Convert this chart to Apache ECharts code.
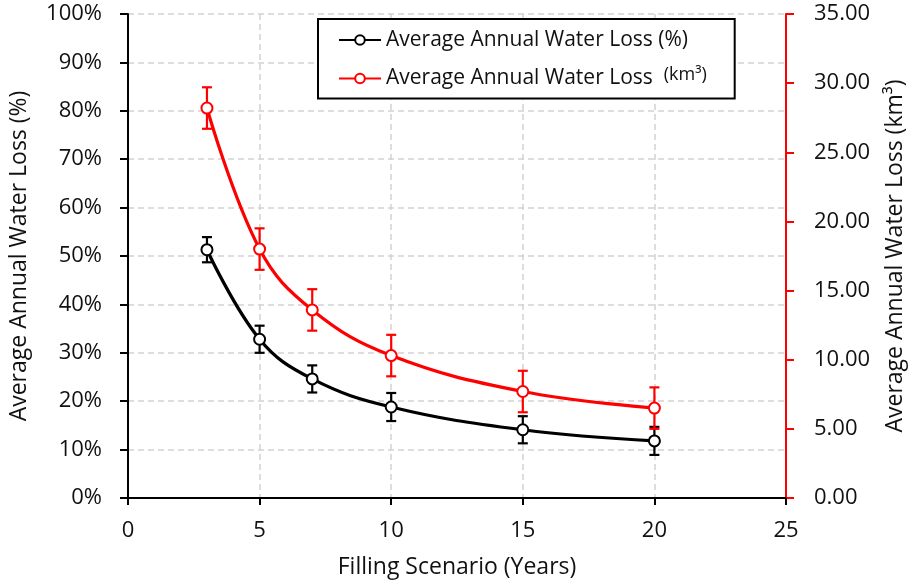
<!DOCTYPE html>
<html>
<head>
<meta charset="utf-8">
<script src="https://cdn.jsdelivr.net/npm/echarts@6/dist/echarts.min.js"></script>
<style>
  html, body { margin: 0; padding: 0; background: #fff; }
  #chart { width: 915px; height: 584px; }
</style>
</head>
<body>
<div id="chart"></div>
<script>
// Filling scenarios (years) and the resulting average annual water loss
const years = [3, 5, 7, 10, 15, 20];
const lossPct = [51.3, 32.8, 24.6, 18.8, 14.1, 11.8];      // % of inflow
const lossPctErr = [2.6, 2.8, 2.8, 2.9, 2.8, 2.9];
const lossKm3 = [28.2, 18.0, 13.6, 10.3, 7.7, 6.5];        // km³ per year
const lossKm3Err = [1.5, 1.5, 1.5, 1.5, 1.5, 1.5];

const xTicks = [0, 5, 10, 15, 20, 25];
const pctName = 'Average Annual Water Loss (%)';
const km3Name = 'Average Annual Water Loss (km³)';

const FONT = 'Open Sans';

function errorBars(color) {
  return function (params, api) {
    const x = api.value(0), y = api.value(1), e = api.value(2);
    const top = api.coord([x, y + e]);
    const bot = api.coord([x, y - e]);
    const hw = 5;
    const style = { stroke: color, lineWidth: 2.2 };
    return {
      type: 'group',
      children: [
        { type: 'line', shape: { x1: top[0], y1: top[1], x2: bot[0], y2: bot[1] }, style },
        { type: 'line', shape: { x1: top[0] - hw, y1: top[1], x2: top[0] + hw, y2: top[1] }, style },
        { type: 'line', shape: { x1: bot[0] - hw, y1: bot[1], x2: bot[0] + hw, y2: bot[1] }, style }
      ]
    };
  };
}

const chart = echarts.init(document.getElementById('chart'), null, { renderer: 'canvas' });

const dashed = { color: '#d2d2d2', width: 1.5, type: [6, 4] };

chart.setOption({
  animation: false,
  backgroundColor: '#fff',
  textStyle: { fontFamily: FONT },
  grid: { left: 125, right: 123, top: 14, bottom: 85, containLabel: false },
  legend: {
    data: [pctName, km3Name],
    orient: 'vertical',
    left: 318,
    top: 19,
    padding: [9, 28, 8, 20],
    itemGap: 14,
    itemWidth: 42,
    itemHeight: 12,
    borderColor: '#000',
    borderWidth: 2,
    backgroundColor: '#fff',
    textStyle: {
      fontFamily: FONT, fontSize: 21, color: '#111', lineHeight: 24,
      rich: { u: { fontFamily: FONT, fontSize: 18, color: '#111', padding: [0, 0, 7, 0] } }
    },
    formatter: function (name) {
      return name === km3Name ? 'Average Annual Water Loss  {u|(km³)}' : name;
    }
  },
  xAxis: {
    type: 'value',
    min: xTicks[0],
    max: xTicks[xTicks.length - 1],
    interval: 5,
    name: 'Filling Scenario (Years)',
    nameLocation: 'middle',
    nameGap: 58,
    nameTextStyle: { fontFamily: FONT, fontSize: 23, color: '#111' },
    axisLine: { lineStyle: { color: '#000', width: 2 } },
    axisTick: { show: true, length: 7, lineStyle: { color: '#000', width: 2 } },
    axisLabel: { fontFamily: FONT, fontSize: 22, color: '#111', margin: 22 },
    splitLine: { show: true, lineStyle: dashed }
  },
  yAxis: [
    {
      type: 'value',
      position: 'left',
      min: 0, max: 100, interval: 10,
      name: pctName,
      nameLocation: 'middle',
      nameRotate: 90,
      nameGap: 97,
      nameTextStyle: { fontFamily: FONT, fontSize: 23, color: '#111' },
      axisLine: { show: true, lineStyle: { color: '#000', width: 2 } },
      axisTick: { show: true, length: 8, lineStyle: { color: '#000', width: 2 } },
      axisLabel: { fontFamily: FONT, fontSize: 22, color: '#111', margin: 26, formatter: '{value}%' },
      splitLine: { show: true, lineStyle: dashed }
    },
    {
      type: 'value',
      position: 'right',
      min: 0, max: 35, interval: 5,
      name: km3Name,
      nameLocation: 'middle',
      nameRotate: 90,
      nameGap: 98,
      nameTextStyle: { fontFamily: FONT, fontSize: 23, color: '#111' },
      axisLine: { show: true, lineStyle: { color: '#ff0000', width: 2 } },
      axisTick: { show: true, length: 8, lineStyle: { color: '#ff0000', width: 2 } },
      axisLabel: {
        fontFamily: FONT, fontSize: 22, color: '#111', margin: 28,
        formatter: v => v.toFixed(2)
      },
      splitLine: { show: false }
    }
  ],
  series: [
    {
      name: pctName + ' error',
      type: 'custom',
      yAxisIndex: 0,
      z: 1,
      renderItem: errorBars('#000'),
      encode: { x: 0, y: 1 },
      data: years.map((x, i) => [x, lossPct[i], lossPctErr[i]])
    },
    {
      name: km3Name + ' error',
      type: 'custom',
      yAxisIndex: 1,
      z: 1,
      renderItem: errorBars('#ff0000'),
      encode: { x: 0, y: 1 },
      data: years.map((x, i) => [x, lossKm3[i], lossKm3Err[i]])
    },
    {
      name: pctName,
      type: 'line',
      yAxisIndex: 0,
      z: 3,
      smooth: 0.4,
      symbol: 'emptyCircle',
      symbolSize: 11,
      lineStyle: { color: '#000', width: 3.2 },
      itemStyle: { color: '#000', borderColor: '#000', borderWidth: 2 },
      data: years.map((x, i) => [x, lossPct[i]])
    },
    {
      name: km3Name,
      type: 'line',
      yAxisIndex: 1,
      z: 3,
      smooth: 0.4,
      symbol: 'emptyCircle',
      symbolSize: 11,
      lineStyle: { color: '#ff0000', width: 3.2 },
      itemStyle: { color: '#ff0000', borderColor: '#ff0000', borderWidth: 2 },
      data: years.map((x, i) => [x, lossKm3[i]])
    }
  ]
});
</script>
</body>
</html>
